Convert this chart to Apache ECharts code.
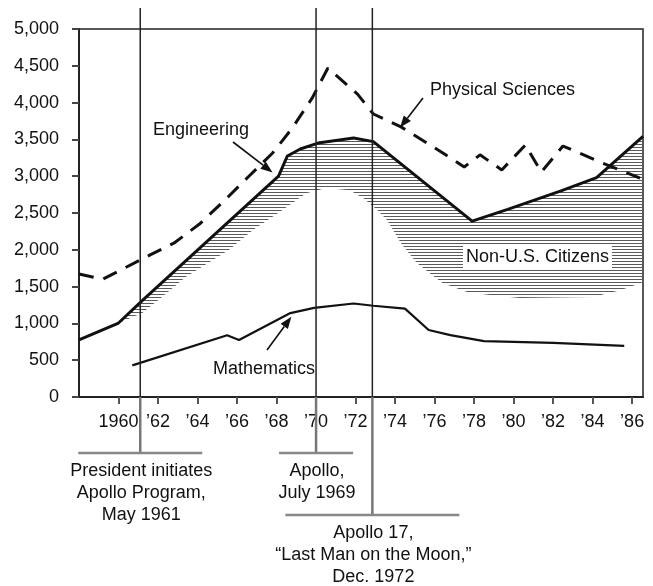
<!DOCTYPE html>
<html>
<head>
<meta charset="utf-8">
<title>Doctorates awarded, 1958-1986</title>
<script src="https://cdn.jsdelivr.net/npm/echarts@6/dist/echarts.min.js"></script>
<style>
  html, body { margin: 0; padding: 0; background: #fff; }
  #chart { width: 653px; height: 586px; }
</style>
</head>
<body>
<div id="chart"></div>
<script>
var tickYears = [1960, 1962, 1964, 1966, 1968, 1970, 1972, 1974, 1976, 1978, 1980, 1982, 1984, 1986]

var engYears = [1958, 1960, 1961.2, 1968.1, 1968.55, 1969.2, 1970.1, 1971.9, 1972.9, 1977.9, 1979.7, 1982.4, 1984.2, 1986.55]
var engValues = [775, 1005, 1310, 3000, 3275, 3370, 3450, 3520, 3470, 2390, 2550, 2800, 2980, 3540]

var physYears = [1958, 1959.2, 1961.6, 1962.8, 1964.1, 1965.4, 1966.6, 1967.8, 1968.8, 1969.8, 1970.6, 1972.1, 1972.9, 1974.3, 1976.1, 1977.5, 1978.3, 1979.4, 1980.6, 1981.4, 1982.5, 1984.4, 1986.4]
var physValues = [1670, 1600, 1930, 2090, 2350, 2680, 3000, 3315, 3655, 4060, 4470, 4115, 3845, 3670, 3370, 3125, 3290, 3085, 3425, 3055, 3410, 3190, 2975]

var mathYears = [1960.7, 1965.5, 1966.1, 1968.7, 1969.9, 1971.9, 1972.9, 1974.5, 1975.7, 1976.8, 1978.5, 1982.0, 1985.6]
var mathValues = [430, 840, 775, 1140, 1210, 1270, 1240, 1200, 910, 840, 760, 735, 695]

// lower edge of the Non-U.S. Citizens band, its upper edge is the engineering line
var nonUsYears = [1960, 1961.2, 1962.2, 1963.4, 1965.6, 1966.8, 1968.3, 1969.5, 1970.5, 1971.7, 1972.4, 1973.1, 1973.6, 1974.3, 1975.1, 1976.4, 1977.6, 1978.7, 1980.3, 1984.0, 1985.4, 1986.55]
var nonUsLower = [1005, 1140, 1360, 1630, 2000, 2270, 2540, 2770, 2840, 2810, 2700, 2540, 2400, 2090, 1820, 1550, 1430, 1390, 1345, 1360, 1450, 1560]

var eventYears = [1961.1, 1970.0, 1972.85]
var eventLabels = [
  'President initiates\nApollo Program,\nMay 1961',
  'Apollo,\nJuly 1969',
  'Apollo 17,\n\u201cLast Man on the Moon,\u201d\nDec. 1972'
]
// bracket layout under the axis (pixels)
var eventBracketY = [453, 453, 515]
var eventHalfWidth = [62, 37, 87]

var FONT = '"Liberation Sans", Arial, Helvetica, sans-serif'
var INK = '#111'

function pairs(xs, ys) {
  return xs.map(function (x, i) { return [x, ys[i]] })
}

function makeHatch() {
  var c = document.createElement('canvas')
  c.width = 8
  c.height = 3
  var ctx = c.getContext('2d')
  ctx.fillStyle = '#5a5a5a'
  ctx.fillRect(0, 0, 8, 1)
  return c
}
var hatch = { type: 'pattern', image: makeHatch(), repeat: 'repeat' }

var chart = echarts.init(document.getElementById('chart'))

var option = {
  animation: false,
  backgroundColor: '#fff',
  grid: { left: 79, right: 10, top: 29, bottom: 189, show: true, borderColor: '#222', borderWidth: 1.5 },
  xAxis: {
    type: 'value',
    min: 1958,
    max: 1986.55,
    axisLine: { onZero: false, lineStyle: { color: '#222', width: 2 } },
    axisTick: { customValues: tickYears, length: 7, lineStyle: { color: '#555', width: 2 } },
    axisLabel: {
      customValues: tickYears,
      color: INK,
      fontSize: 18,
      fontFamily: FONT,
      margin: 16,
      formatter: function (v) {
        return v === 1960 ? '1960' : '\u2019' + String(v).slice(2)
      }
    },
    splitLine: { show: false }
  },
  yAxis: {
    type: 'value',
    min: 0,
    max: 5000,
    interval: 500,
    axisLine: { show: true, lineStyle: { color: '#222', width: 2 } },
    axisTick: { show: true, length: 7, lineStyle: { color: '#444', width: 2 } },
    axisLabel: {
      color: INK,
      fontSize: 18,
      fontFamily: FONT,
      margin: 20,
      formatter: function (v) {
        return String(v).replace(/\B(?=(\d{3})+(?!\d))/g, ',')
      }
    },
    splitLine: { show: false }
  },
  series: [
    {
      name: 'Non-U.S. Citizens',
      type: 'custom',
      z: 1,
      silent: true,
      data: [[nonUsYears[0], 0]],
      encode: { x: 0, y: 1 },
      renderItem: function (params, api) {
        var pts = []
        engYears.forEach(function (yr, i) {
          if (yr >= nonUsYears[0]) pts.push(api.coord([yr, engValues[i]]))
        })
        for (var i = nonUsYears.length - 1; i >= 0; i--) {
          pts.push(api.coord([nonUsYears[i], nonUsLower[i]]))
        }
        return { type: 'polygon', shape: { points: pts }, style: { fill: hatch } }
      }
    },
    {
      name: 'Mathematics',
      type: 'line',
      z: 3,
      data: pairs(mathYears, mathValues),
      showSymbol: false,
      lineStyle: { color: INK, width: 2.2 }
    },
    {
      name: 'Physical Sciences',
      type: 'line',
      z: 3,
      data: pairs(physYears, physValues),
      showSymbol: false,
      lineStyle: { color: INK, width: 3, type: [15, 10] }
    },
    {
      name: 'Engineering',
      type: 'line',
      z: 4,
      data: pairs(engYears, engValues),
      showSymbol: false,
      lineStyle: { color: INK, width: 3 }
    },
    {
      name: 'Events',
      type: 'custom',
      z: 5,
      clip: false,
      silent: true,
      data: eventYears.map(function (y) { return [y, 0] }),
      encode: { x: 0, y: 1 },
      renderItem: function (params, api) {
        var i = params.dataIndex
        var base = api.coord([api.value(0), 0])
        var x = base[0]
        var by = eventBracketY[i]
        var hw = eventHalfWidth[i]
        return {
          type: 'group',
          children: [
            { type: 'line', shape: { x1: x, y1: 8, x2: x, y2: base[1] }, style: { stroke: '#222', lineWidth: 1.5 } },
            { type: 'line', shape: { x1: x, y1: base[1], x2: x, y2: by }, style: { stroke: '#777', lineWidth: 2.5 } },
            { type: 'line', shape: { x1: x - hw, y1: by, x2: x + hw, y2: by }, style: { stroke: '#888', lineWidth: 2.5 } },
            {
              type: 'text', x: x + 1, y: by + 7,
              style: {
                text: eventLabels[i], fill: INK, fontSize: 18, fontFamily: FONT,
                align: 'center', verticalAlign: 'top', lineHeight: 22
              }
            }
          ]
        }
      }
    }
  ]
}

chart.setOption(option)

// call-out labels with arrows pointing at the lines
function arrow(from, tip) {
  var dx = tip[0] - from[0], dy = tip[1] - from[1]
  var len = Math.sqrt(dx * dx + dy * dy)
  var ux = dx / len, uy = dy / len
  var hl = 12, hw = 4.5
  var bx = tip[0] - ux * hl, by = tip[1] - uy * hl
  return [
    { type: 'line', z: 10, shape: { x1: from[0], y1: from[1], x2: bx, y2: by }, style: { stroke: INK, lineWidth: 1.6 } },
    { type: 'polygon', z: 10, shape: { points: [tip, [bx - uy * hw, by + ux * hw], [bx + uy * hw, by - ux * hw]] }, style: { fill: INK } }
  ]
}
function label(text, x, y, extra) {
  var st = { text: text, fill: INK, fontSize: 18, fontFamily: FONT, verticalAlign: 'middle' }
  if (extra) Object.keys(extra).forEach(function (k) { st[k] = extra[k] })
  return { type: 'text', z: 11, x: x, y: y, style: st }
}
function px(p) { return chart.convertToPixel({ gridIndex: 0 }, p) }

var graphics = []
graphics.push(label('Engineering', 153, 130))
graphics = graphics.concat(arrow([233, 142], px([1967.8, 3050])))
graphics.push(label('Physical Sciences', 430, 90))
graphics = graphics.concat(arrow([423, 98], px([1974.25, 3660])))
graphics.push(label('Mathematics', 213, 369))
graphics = graphics.concat(arrow([267, 350], px([1968.75, 1090])))
graphics.push(label('Non-U.S. Citizens', 463, 257, { backgroundColor: '#fff', padding: [3, 3, 2, 3] }))

chart.setOption({ graphic: graphics })
</script>
</body>
</html>
